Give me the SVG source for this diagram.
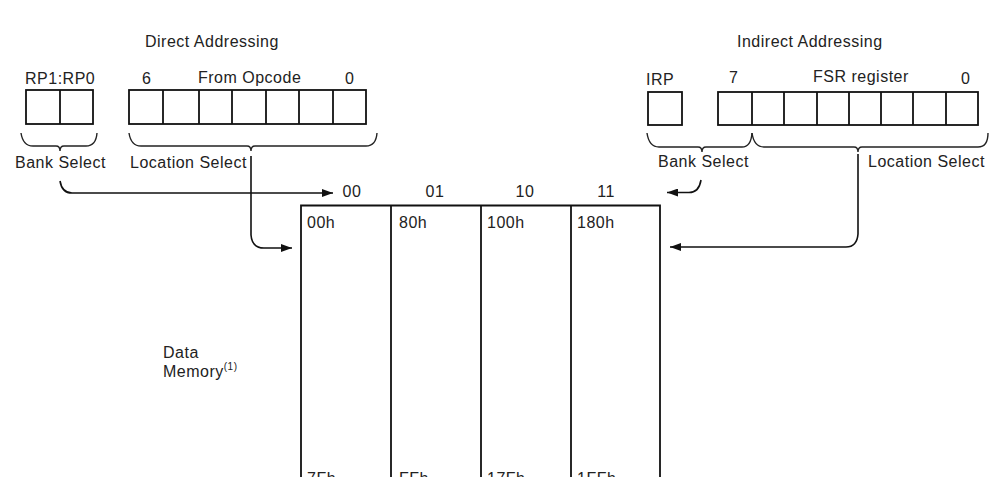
<svg xmlns="http://www.w3.org/2000/svg" width="990" height="477" viewBox="0 0 990 477">
<style>
text{font-family:"Liberation Sans",Arial,sans-serif;font-size:16px;letter-spacing:0.5px;fill:#222}
.box{fill:none;stroke:#111;stroke-width:1.8}
.ln{fill:none;stroke:#111;stroke-width:1.6}
.br{fill:none;stroke:#222;stroke-width:1.4}
.m{text-anchor:middle}
</style>
<defs>
<marker id="ah" markerUnits="userSpaceOnUse" markerWidth="12" markerHeight="8" refX="11" refY="4" orient="auto">
<path d="M0,0 L11,4 L0,8 z" fill="#111"/>
</marker>
</defs>
<rect width="990" height="477" fill="#fff"/>

<text x="145" y="47">Direct Addressing</text>
<text x="737" y="47">Indirect Addressing</text>

<g id="direct-bank-reg">
<text x="25" y="84">RP1:RP0</text>
<rect class="box" x="26" y="90" width="67" height="34"/>
<line class="box" x1="60" y1="90" x2="60" y2="124"/>
<path class="br" d="M21,133 Q23,146 33,146 L56,146 Q60,146 60,151 Q60,146 64,146 L86,146 Q96,146 97,133"/>
<text x="15" y="168">Bank Select</text>
</g>

<g id="direct-opcode-reg">
<text x="142" y="84">6</text>
<text x="198" y="83">From Opcode</text>
<text x="345" y="84">0</text>
<rect class="box" x="129" y="90" width="237" height="34"/>
<line class="box" x1="163" y1="90" x2="163" y2="124"/>
<line class="box" x1="199" y1="90" x2="199" y2="124"/>
<line class="box" x1="232" y1="90" x2="232" y2="124"/>
<line class="box" x1="266" y1="90" x2="266" y2="124"/>
<line class="box" x1="299" y1="90" x2="299" y2="124"/>
<line class="box" x1="333" y1="90" x2="333" y2="124"/>
<path class="br" d="M129,133 Q131,146 141,146 L247,146 Q251,146 251,151 Q251,146 255,146 L366,146 Q376,146 377,133"/>
<text x="130" y="168">Location Select</text>
</g>

<g id="indirect-irp">
<text x="646" y="85">IRP</text>
<rect class="box" x="648" y="92" width="34" height="33"/>
<path class="br" d="M647,133 Q649,147 659,147 L698,147 Q702,147 702,152 Q702,147 706,147 L742,147 Q751,147 752,133"/>
<text x="658" y="167">Bank Select</text>
</g>

<g id="indirect-fsr">
<text x="729" y="83">7</text>
<text x="813" y="82">FSR register</text>
<text x="961" y="84">0</text>
<rect class="box" x="718" y="92" width="260" height="33"/>
<line class="box" x1="752" y1="92" x2="752" y2="125"/>
<line class="box" x1="784" y1="92" x2="784" y2="125"/>
<line class="box" x1="817" y1="92" x2="817" y2="125"/>
<line class="box" x1="849" y1="92" x2="849" y2="125"/>
<line class="box" x1="881" y1="92" x2="881" y2="125"/>
<line class="box" x1="913" y1="92" x2="913" y2="125"/>
<line class="box" x1="946" y1="92" x2="946" y2="125"/>
<path class="br" d="M752,133 Q754,147 764,147 L854,147 Q858,147 858,152 Q858,147 862,147 L978,147 Q988,147 988,133"/>
<text x="868" y="167">Location Select</text>
</g>

<g id="memory">
<text class="m" x="352" y="197">00</text>
<text class="m" x="435" y="197">01</text>
<text class="m" x="525" y="197">10</text>
<text class="m" x="606" y="197">11</text>
<path class="box" d="M301,480 L301,205.5 L660,205.5 L660,480"/>
<line class="box" x1="391" y1="205" x2="391" y2="480"/>
<line class="box" x1="481" y1="205" x2="481" y2="480"/>
<line class="box" x1="571" y1="205" x2="571" y2="480"/>
<text x="307" y="228">00h</text>
<text x="399" y="228">80h</text>
<text x="487" y="228">100h</text>
<text x="577" y="228">180h</text>
<text x="307" y="484">7Fh</text>
<text x="399" y="484">FFh</text>
<text x="487" y="484">17Fh</text>
<text x="577" y="484">1FFh</text>
</g>

<g id="data-memory-label">
<text x="163" y="358">Data</text>
<text x="163" y="377">Memory<tspan font-size="10" dy="-7">(1)</tspan></text>
</g>

<g id="connectors">
<path class="ln" d="M60,181 Q62,193 72,193 L333,193" marker-end="url(#ah)"/>
<path class="ln" d="M251,156 L251,235 Q252,248 264,248 L292,248" marker-end="url(#ah)"/>
<path class="ln" d="M701,180 Q699,192.5 689,192.5 L667,192.5" marker-end="url(#ah)"/>
<path class="ln" d="M858,154 L858,234 Q857,247 846,247 L670,247" marker-end="url(#ah)"/>
</g>
</svg>
